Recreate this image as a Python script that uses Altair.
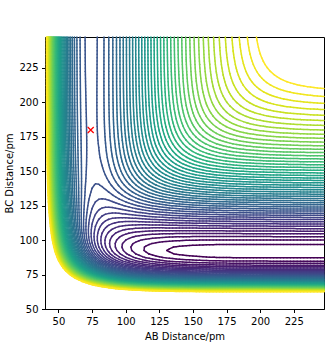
import numpy as np
import pandas as pd
import altair as alt

# ---- values ----
ab_range = [40.0, 247.5]          # AB distance / pm (grid extent)
bc_range = [50.0, 247.5]          # BC distance / pm (grid extent)
grid_step = 2.5
# LEPS pair parameters: [D (kJ/mol), beta (1/pm), r0 (pm), Sato]
pair_AB = [458.2, 0.01944, 74.14, 0.23]    # H-H
pair_BC = [590.7, 0.02240, 91.71, 0.175]   # H-F
pair_AC = [590.7, 0.02240, 91.71, 0.175]   # H-F
level_start = -584.0
level_step = 10.0
level_count = 51
start_point_ab = [74.0]
start_point_bc = [180.0]
x_ticks = [50, 75, 100, 125, 150, 175, 200, 225]
y_ticks = [50, 75, 100, 125, 150, 175, 200, 225]


def qj(r, p):
    D, beta, r0, S = p
    e = np.exp(-beta * (r - r0))
    Q = D / (4 * (1 + S)) * ((3 + S) * e ** 2 - (2 + 6 * S) * e)
    J = D / (4 * (1 + S)) * ((1 + 3 * S) * e ** 2 - (6 + 2 * S) * e)
    return Q, J


ab = np.arange(ab_range[0], ab_range[1] + 1e-9, grid_step)
bc = np.arange(bc_range[0], bc_range[1] + 1e-9, grid_step)
AB, BC = np.meshgrid(ab, bc)
AC = AB + BC
Qab, Jab = qj(AB, pair_AB)
Qbc, Jbc = qj(BC, pair_BC)
Qac, Jac = qj(AC, pair_AC)
V = Qab + Qbc + Qac - np.sqrt(Jab ** 2 + Jbc ** 2 + Jac ** 2 - Jab * Jbc - Jbc * Jac - Jab * Jac)

levels = level_start + level_step * np.arange(level_count)

TABLE = {1: [(3, 0)], 2: [(0, 1)], 3: [(3, 1)], 4: [(1, 2)], 5: [(3, 0), (1, 2)],
         6: [(0, 2)], 7: [(3, 2)], 8: [(2, 3)], 9: [(0, 2)], 10: [(0, 1), (2, 3)],
         11: [(1, 2)], 12: [(1, 3)], 13: [(0, 1)], 14: [(3, 0)]}


def segments(Z, xs, ys, L):
    z00 = Z[:-1, :-1]; z01 = Z[:-1, 1:]; z10 = Z[1:, :-1]; z11 = Z[1:, 1:]
    case = (z00 > L).astype(int) + 2 * (z01 > L) + 4 * (z11 > L) + 8 * (z10 > L)
    shp = z00.shape
    X0 = np.broadcast_to(xs[:-1][None, :], shp)
    X1 = np.broadcast_to(xs[1:][None, :], shp)
    Y0 = np.broadcast_to(ys[:-1][:, None], shp)
    Y1 = np.broadcast_to(ys[1:][:, None], shp)
    with np.errstate(divide="ignore", invalid="ignore"):
        t0 = (L - z00) / (z01 - z00)
        t1 = (L - z01) / (z11 - z01)
        t2 = (L - z10) / (z11 - z10)
        t3 = (L - z00) / (z10 - z00)
    ex = [X0 + t0 * (X1 - X0), X1, X0 + t2 * (X1 - X0), X0]
    ey = [Y0, Y0 + t1 * (Y1 - Y0), Y1, Y0 + t3 * (Y1 - Y0)]
    out = []
    for c, pairs in TABLE.items():
        m = case == c
        if not m.any():
            continue
        for a, b in pairs:
            out.append(np.column_stack([ex[a][m], ey[a][m], ex[b][m], ey[b][m]]))
    if not out:
        return np.zeros((0, 4))
    return np.vstack(out)


rows = []
for L in levels:
    s = segments(V, ab, bc, L)
    if len(s):
        d = pd.DataFrame(np.round(s, 2), columns=["x", "y", "x2", "y2"])
        d["level"] = float(L)
        rows.append(d)
seg_df = pd.concat(rows, ignore_index=True)

xscale = alt.Scale(domain=ab_range, nice=False, zero=False)
yscale = alt.Scale(domain=bc_range, nice=False, zero=False)
xaxis = alt.Axis(values=x_ticks, title="AB Distance/pm", labelOverlap=False)
yaxis = alt.Axis(values=y_ticks, title="BC Distance/pm", labelOverlap=False)

contours = alt.Chart(seg_df).mark_rule(strokeWidth=1.5, strokeCap="round").encode(
    x=alt.X("x:Q", scale=xscale, axis=xaxis),
    y=alt.Y("y:Q", scale=yscale, axis=yaxis),
    x2="x2:Q",
    y2="y2:Q",
    color=alt.Color("level:Q", scale=alt.Scale(scheme="viridis", domain=[float(levels.min()), float(levels.max())]), legend=None),
)

marker = alt.Chart(pd.DataFrame({"x": start_point_ab, "y": start_point_bc})).mark_point(
    shape="M-1,-1L1,1M-1,1L1,-1", size=36, color="red", strokeWidth=1.3, filled=False, opacity=1
).encode(x=alt.X("x:Q", scale=xscale, axis=xaxis), y=alt.Y("y:Q", scale=yscale, axis=yaxis))

chart = alt.layer(contours, marker).properties(
    width=279, height=272,
    padding={"left": 45, "top": 37, "right": 11, "bottom": 34},
    autosize=alt.AutoSizeParams(type="none"),
).configure_view(stroke="black", strokeWidth=1).configure_axis(
    grid=False, domainColor="black", domainWidth=1, tickColor="black", tickWidth=1, tickSize=3.5,
    labelFont="DejaVu Sans", labelFontSize=10, labelColor="black", labelPadding=3.5,
    titleFont="DejaVu Sans", titleFontSize=10, titleFontWeight="normal", titleColor="black",
).configure_axisX(titlePadding=5).configure_axisY(titlePadding=4)

chart.save("out.html", embed_options={"renderer": "svg", "actions": False})
